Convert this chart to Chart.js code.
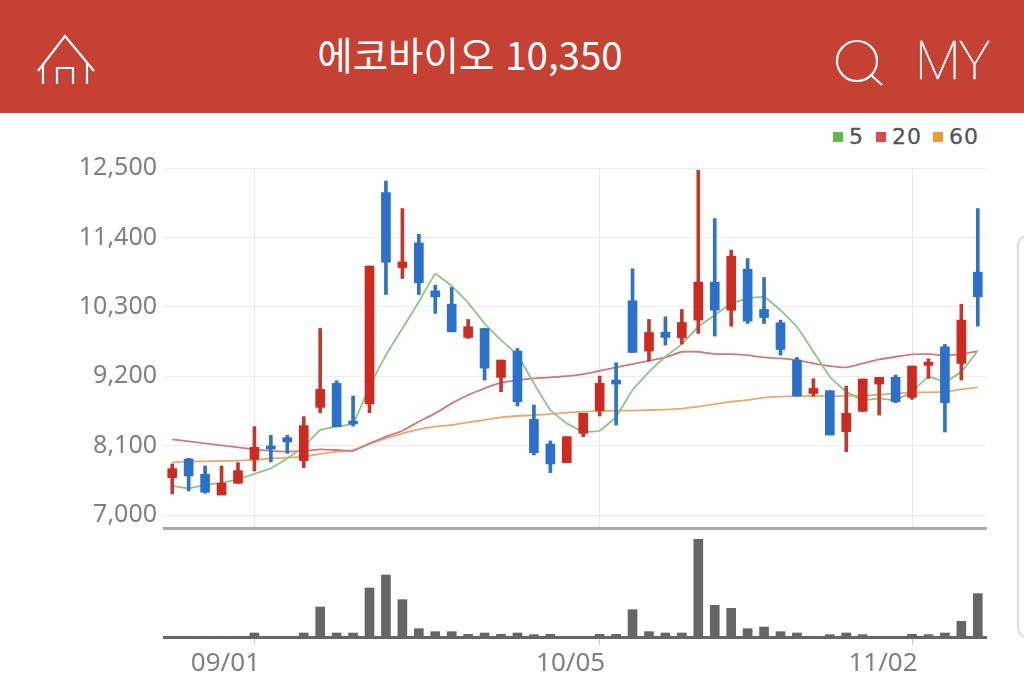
<!DOCTYPE html>
<html lang="ko">
<head>
<meta charset="utf-8">
<title>에코바이오 10,350</title>
<script src="https://cdn.jsdelivr.net/npm/chart.js@4/dist/chart.umd.min.js"></script>
<style>
    html, body { margin: 0; padding: 0; background: #fff; overflow: hidden; }
    #page { position: relative; width: 1024px; height: 692px; overflow: hidden; }
    #header { position: absolute; left: 0; top: 0; width: 1024px; height: 113px; background: #c44134; }
    #title {
        position: absolute; left: 0; width: 940px; top: 28px; margin-left: 0;
        text-align: center; color: #fff;
        font: 400 38.5px/50px "Noto Sans CJK KR", sans-serif;
    }
    #my {
        position: absolute; left: 915px; top: 30px; color: #fff;
        font: 100 53px/62px Roboto, sans-serif; letter-spacing: -1px;
        -webkit-text-stroke: 0.4px #fff;
    }
    #header svg { position: absolute; left: 0; top: 0; }
    #legend {
        position: absolute; top: 123px; left: 833px; display: flex; align-items: center; height: 28px;
        font: 22px/28px "DejaVu Sans", sans-serif; color: #555; letter-spacing: 1px;
        -webkit-text-stroke: 0.3px #555;
    }
    #legend i { display: inline-block; width: 10px; height: 10px; margin-right: 6px; }
    #card {
        position: absolute; left: 1017px; top: 235px; width: 30px; height: 403px; box-sizing: border-box;
        border: 2px solid #dcdcdc; border-radius: 10px;
    }
    canvas { position: absolute; left: 0; }
    #priceChart { top: 120px; }
    #volumeChart { top: 530px; }
</style>
</head>
<body>
<div id="page">
    <div id="header">
        <svg width="1024" height="113" fill="none" stroke="#fff" stroke-width="2.2">
            <path d="M38 71 L65 36 L94 71 M43 63 V84 M87 63 V84 M57 84 V68 H73 V84"/>
            <circle cx="857" cy="61" r="20"/>
            <path d="M871 75 L882 85"/>
        </svg>
        <div id="title">에코바이오 10,350</div>
        <div id="my">MY</div>
    </div>
    <div id="legend">
        <i style="background:#5fb84f"></i><span style="margin-right:12px">5</span>
        <i style="background:#e0484a"></i><span style="margin-right:11px">20</span>
        <i style="background:#ee9a35"></i><span>60</span>
    </div>
    <div id="card"></div>
    <canvas id="priceChart" width="1024" height="430"></canvas>
    <canvas id="volumeChart" width="1024" height="162"></canvas>
</div>
<script>
// values
const dateLabels = ['', '', '', '', '', '09/01', '', '', '', '', '', '', '', '', '', '', '', '', '', '', '', '', '', '', '', '', '10/05', '', '', '', '', '', '', '', '', '', '', '', '', '', '', '', '', '', '', '11/02', '', '', '', ''];
const priceTicks = [7000, 8100, 9200, 10300, 11400, 12500];

const openPrices = [7593, 7889, 7646, 7319, 7504, 7884, 8095, 8227, 7863, 8707, 9087, 8490, 8760, 12110, 10923, 11313, 10553, 10342, 9815, 9957, 9182, 9598, 8517, 8126, 7831, 8295, 8654, 9139, 10395, 9598, 9899, 9809, 10089, 10691, 10247, 10896, 10258, 10047, 9456, 8928, 8971, 8322, 8643, 9076, 9182, 8865, 9372, 9667, 9403, 10849];
const closePrices = [7736, 7620, 7361, 7504, 7704, 8074, 8047, 8158, 8417, 8992, 8401, 8443, 10944, 11007, 11012, 10680, 10458, 9904, 9984, 9329, 9456, 8796, 7989, 7810, 8242, 8612, 9087, 9076, 9577, 9894, 9815, 10052, 10691, 10247, 11102, 10073, 10131, 9625, 8886, 9007, 8269, 8612, 9155, 9182, 8796, 9361, 9424, 8781, 10089, 10458];
const highPrices = [7810, 7900, 7778, 7778, 7831, 8401, 8264, 8264, 8559, 9957, 9129, 8886, 10944, 12294, 11857, 11450, 10643, 10606, 10100, 9957, 9456, 9641, 8744, 8174, 8242, 8612, 9203, 9414, 10902, 10100, 10142, 10258, 12463, 11698, 11197, 11065, 10764, 10089, 9498, 9160, 8971, 9044, 9155, 9182, 9219, 9361, 9477, 9704, 10342, 11857];
const lowPrices = [7335, 7382, 7346, 7319, 7504, 7699, 7841, 7979, 7752, 8622, 8401, 8411, 8622, 10495, 10749, 10495, 10195, 9904, 9799, 9139, 8955, 8728, 7952, 7673, 7831, 8242, 8570, 8427, 9577, 9440, 9693, 9709, 9878, 9836, 9994, 10036, 10036, 9535, 8886, 8886, 8269, 8005, 8643, 8585, 8781, 8833, 9166, 8316, 9139, 9994];

const ma5 = [7462, 7425, 7477, 7514, 7567, 7652, 7741, 7900, 8084, 8348, 8401, 8453, 9034, 9535, 9957, 10379, 10817, 10627, 10363, 10036, 9773, 9535, 9087, 8665, 8453, 8322, 8337, 8559, 8981, 9271, 9509, 9709, 9984, 10168, 10353, 10432, 10458, 10247, 9984, 9588, 9192, 8955, 8823, 8849, 8823, 8955, 9192, 9113, 9271, 9604];
const ma20 = [8200, 8169, 8137, 8105, 8074, 8042, 8016, 8005, 8016, 8042, 8031, 8016, 8137, 8242, 8337, 8480, 8612, 8770, 8902, 9007, 9097, 9139, 9166, 9182, 9203, 9234, 9287, 9340, 9393, 9445, 9498, 9588, 9588, 9551, 9551, 9535, 9498, 9482, 9456, 9403, 9361, 9340, 9403, 9466, 9509, 9546, 9551, 9535, 9551, 9598];
const ma60 = [7836, 7847, 7852, 7857, 7863, 7873, 7900, 7910, 7926, 7968, 8005, 8031, 8126, 8216, 8295, 8359, 8401, 8427, 8469, 8506, 8548, 8570, 8585, 8601, 8622, 8638, 8649, 8654, 8654, 8665, 8670, 8686, 8717, 8759, 8796, 8823, 8860, 8876, 8886, 8886, 8886, 8886, 8897, 8907, 8928, 8944, 8944, 8955, 8992, 9023];

const volumes = [1, 1, 1, 1, 1, 12, 1, 1, 12, 90, 12, 12, 147, 186, 112, 25, 16, 16, 8, 12, 8, 12, 7, 8, 1, 1, 8, 8, 82, 16, 12, 12, 294, 95, 86, 25, 30, 16, 12, 1, 7, 12, 7, 1, 1, 8, 7, 12, 47, 130];

const RED = '#cf2a20';
const BLUE = '#2b71c9';
const candleColors = openPrices.map((o, i) => closePrices[i] >= o ? RED : BLUE);
const wickColors = openPrices.map((o, i) => closePrices[i] >= o ? '#c0392f' : '#2f73c2');

const AXIS_LEFT = 164;
const AXIS_RIGHT_GAP = 38;

function maLine(data, color) {
    return {
        type: 'line', data, borderColor: color, borderWidth: 1.8,
        pointRadius: 0, tension: 0.1, order: 3
    };
}

new Chart(document.getElementById('priceChart'), {
    type: 'bar',
    data: {
        labels: dateLabels,
        datasets: [
            maLine(ma5, '#8cc585'),
            maLine(ma20, '#cf7a80'),
            maLine(ma60, '#eaa968'),
            {
                data: lowPrices.map((l, i) => [l, highPrices[i]]),
                backgroundColor: wickColors, barThickness: 3, grouped: false, order: 2
            },
            {
                data: openPrices.map((o, i) => [o, closePrices[i]]),
                backgroundColor: candleColors, barThickness: 9, grouped: false, order: 1
            }
        ]
    },
    options: {
        responsive: false,
        animation: false,
        layout: { padding: { top: 48, right: AXIS_RIGHT_GAP, bottom: 6 } },
        plugins: { legend: { display: false }, tooltip: { enabled: false } },
        scales: {
            x: {
                offset: true,
                afterFit: scale => { scale.height = 0; },
                ticks: { display: false, autoSkip: false },
                grid: {
                    offset: false, drawTicks: false,
                    color: ctx => dateLabels[ctx.index] ? '#e9e9e9' : 'rgba(0,0,0,0)'
                },
                border: { display: true, color: '#a9a9a9', width: 3 }
            },
            y: {
                min: 6795,
                max: 12500,
                afterBuildTicks: scale => { scale.ticks = priceTicks.map(value => ({ value })); },
                afterFit: scale => { scale.width = AXIS_LEFT; },
                ticks: {
                    padding: 7,
                    color: '#808080',
                    font: { family: '"Noto Sans"', size: 25 },
                    callback: v => v.toLocaleString('en-US')
                },
                grid: { color: '#ececec', drawTicks: false },
                border: { display: false }
            }
        }
    }
});

new Chart(document.getElementById('volumeChart'), {
    type: 'bar',
    data: {
        labels: dateLabels,
        datasets: [{ data: volumes, backgroundColor: '#666666', barThickness: 9 }]
    },
    options: {
        responsive: false,
        animation: false,
        layout: { padding: { top: 9, left: AXIS_LEFT, right: AXIS_RIGHT_GAP } },
        plugins: { legend: { display: false }, tooltip: { enabled: false } },
        scales: {
            x: {
                offset: true,
                afterFit: scale => { scale.height = 55; },
                ticks: {
                    autoSkip: false, maxRotation: 0, labelOffset: -29, padding: 3,
                    color: '#808080',
                    font: { family: '"Noto Sans"', size: 26 }
                },
                grid: {
                    offset: false, drawOnChartArea: false, tickLength: 8,
                    tickColor: ctx => dateLabels[ctx.index] ? '#cccccc' : 'rgba(0,0,0,0)'
                },
                border: { display: true, color: '#666666', width: 3 }
            },
            y: { display: false, min: 0, max: 294 }
        }
    }
});
</script>
</body>
</html>
